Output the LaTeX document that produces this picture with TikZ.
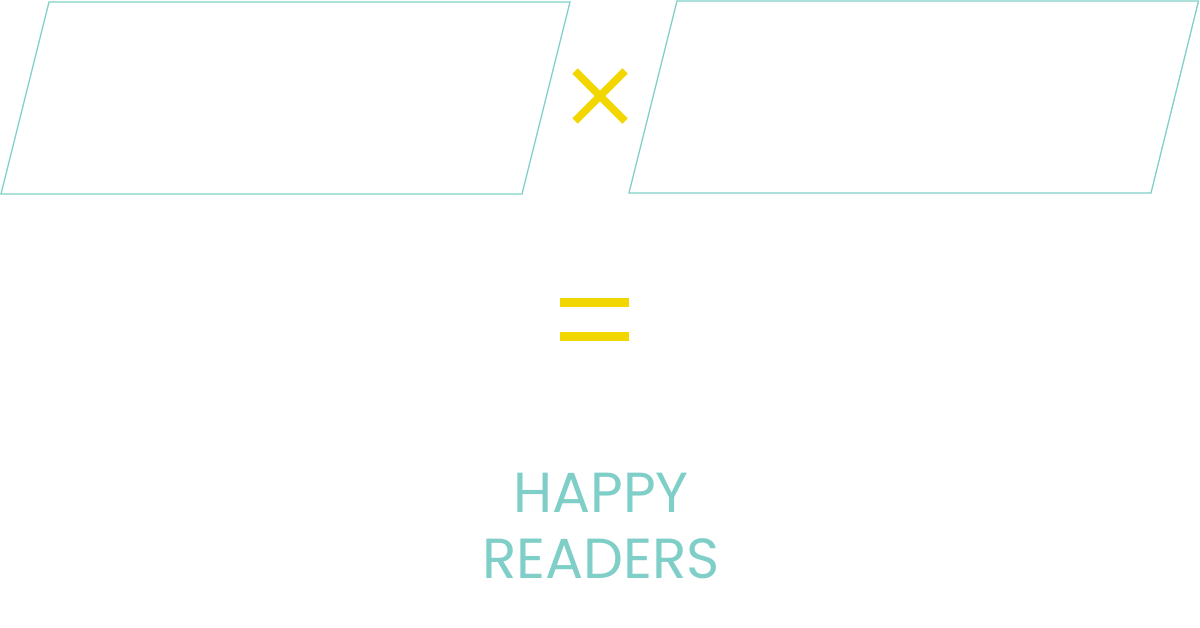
\documentclass[tikz,border=0pt]{standalone}
\usepackage{fontspec}
\setmainfont{Poppins}
\definecolor{teal}{HTML}{7FCFC8}
\definecolor{yel}{HTML}{F2D600}
\begin{document}
\begin{tikzpicture}[x=1pt,y=-1pt,
  frame/.style={draw=teal,line width=1.3pt,line join=miter},
  sign/.style={draw=yel,line width=7.5pt},
  bar/.style={fill=yel,draw=none},
  word/.style={text=teal,font=\fontsize{56.5}{66}\selectfont,anchor=base,inner sep=0pt}]
\useasboundingbox (0,0) rectangle (1200,627);
\draw[frame] (49,2) coordinate (l1) -- (570,2) coordinate (l2) -- (522,194) coordinate (l3) -- (1,194) coordinate (l4) -- cycle;
\draw[frame] (677,1) coordinate (r1) -- (1198.5,1) coordinate (r2) -- (1151,193) coordinate (r3) -- (629,193) coordinate (r4) -- cycle;
\draw[sign] (575,71) coordinate (x1) -- (625,121) coordinate (x2);
\draw[sign] (625,71) coordinate (x3) -- (575,121) coordinate (x4);
\fill[bar] (560,298) rectangle (629,307);
\fill[bar] (560,332) rectangle (629,341);
\node[word] (happy) at (601,512) {HAPPY};
\node[word] (readers) at (601,578.5) {READERS};
\end{tikzpicture}
\end{document}
